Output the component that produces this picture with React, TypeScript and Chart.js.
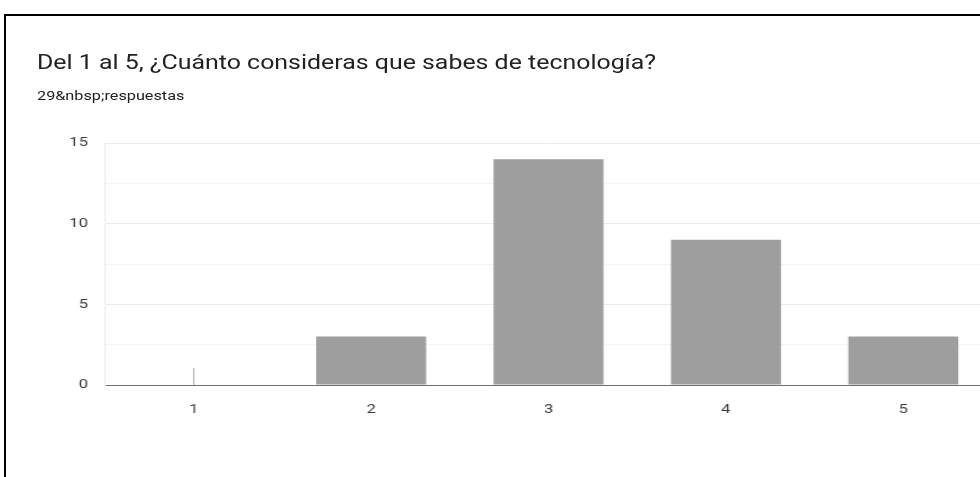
import React, { useEffect, useRef } from "react";
import { Chart, registerables } from "chart.js";

Chart.register(...registerables);

const categories = ["1", "2", "3", "4", "5"];
const counts = [0, 3, 14, 9, 3];
const yTickLabels = [0, 5, 10, 15];
const titleText = "Del 1 al 5, ¿Cuánto consideras que sabes de tecnología?";
const subtitleText = "29&nbsp;respuestas";

// The reference is horizontally stretched; render the canvas narrower and stretch via CSS.
const STRETCH = 1.23;
const CSS_W = 1000;
const CSS_H = 477;
const PX_W = Math.round(CSS_W / STRETCH);

const zeroMarkPlugin = {
  id: "zeroMark",
  afterDatasetsDraw(chart: any) {
    const x = chart.scales.x;
    const y = chart.scales.y;
    const ctx = chart.ctx;
    const data = chart.data.datasets[0].data as number[];
    ctx.save();
    ctx.strokeStyle = "#9a9a9a";
    ctx.lineWidth = 0.85;
    data.forEach((v, i) => {
      if (v === 0) {
        const px = x.getPixelForValue(i);
        const py = y.getPixelForValue(0);
        ctx.beginPath();
        ctx.moveTo(px, py);
        ctx.lineTo(px, py - 17);
        ctx.stroke();
      }
    });
    ctx.restore();
  },
};

export default function App() {
  const canvasRef = useRef<HTMLCanvasElement | null>(null);

  useEffect(() => {
    if (!canvasRef.current) return;
    const chart = new Chart(canvasRef.current, {
      type: "bar",
      data: {
        labels: categories,
        datasets: [
          {
            data: counts,
            backgroundColor: "#9e9e9e",
            borderWidth: 0,
            categoryPercentage: 1,
            barPercentage: 0.62,
          },
        ],
      },
      options: {
        animation: false,
        responsive: false,
        maintainAspectRatio: false,
        layout: { padding: { left: 0, right: PX_W - 992 / STRETCH, top: 143, bottom: 0 } },
        plugins: {
          legend: { display: false },
          tooltip: { enabled: false },
          title: { display: false },
        },
        scales: {
          x: {
            grid: { display: false, drawTicks: false },
            border: { display: true, color: "#6f6f6f", width: 1 },
            ticks: {
              padding: 17,
              color: "#3c3c3c",
              font: { family: "Roboto", size: 13.5 },
            },
            afterFit(scale: any) {
              scale.height = 92;
            },
          },
          y: {
            min: 0,
            max: 15,
            grid: {
              drawTicks: false,
              color: (c: any) =>
                c.tick && yTickLabels.includes(c.tick.value) ? "#ebebeb" : "#f5f5f5",
            },
            border: { display: true, color: "#ebebeb", width: 1 },
            ticks: {
              stepSize: 2.5,
              padding: (105 - 88) / STRETCH,
              color: "#3c3c3c",
              font: { family: "Roboto", size: 13.5 },
              callback: (v: any) => (yTickLabels.includes(Number(v)) ? String(v) : ""),
            },
            afterFit(scale: any) {
              scale.width = 105 / STRETCH;
            },
          },
        },
      },
      plugins: [zeroMarkPlugin],
    });
    return () => chart.destroy();
  }, []);

  return (
    <div
      style={{
        position: "relative",
        width: 980,
        height: 477,
        overflow: "hidden",
        background: "#ffffff",
        fontFamily: "Roboto, sans-serif",
      }}
    >
      <style>{`body{margin:0;overflow:hidden;}`}</style>
      <canvas
        ref={canvasRef}
        width={PX_W}
        height={CSS_H}
        style={{ position: "absolute", left: 0, top: 0, width: CSS_W, height: CSS_H }}
      />
      <div
        style={{
          position: "absolute",
          left: 4,
          top: 14,
          width: 1000,
          height: 500,
          borderTop: "2px solid #000",
          borderLeft: "2px solid #000",
          pointerEvents: "none",
        }}
      />
      <div
        style={{
          position: "absolute",
          left: 37,
          top: 50,
          fontSize: 20,
          color: "#202124",
          whiteSpace: "nowrap",
          lineHeight: "24px",
          transform: "scaleX(1.245)",
          transformOrigin: "0 0",
        }}
      >
        {titleText}
      </div>
      <div
        style={{
          position: "absolute",
          left: 37,
          top: 87,
          fontSize: 13,
          color: "#202124",
          whiteSpace: "nowrap",
          lineHeight: "18px",
          transform: "scaleX(1.25)",
          transformOrigin: "0 0",
        }}
      >
        {subtitleText}
      </div>
    </div>
  );
}
